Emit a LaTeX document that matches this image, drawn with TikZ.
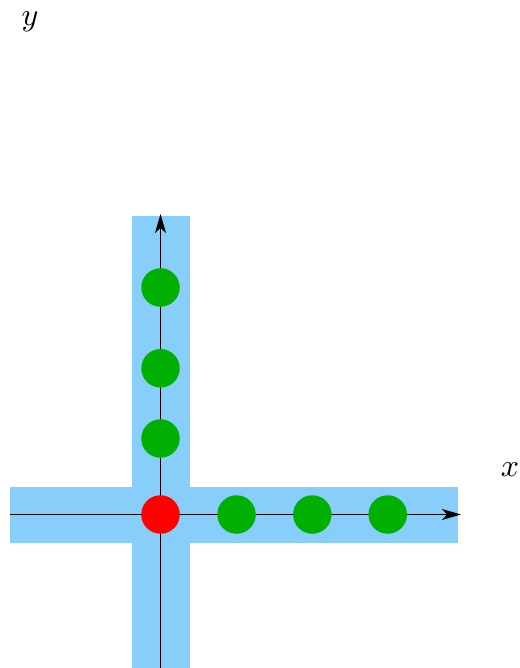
\documentclass[tikz,border=0pt]{standalone}
\usepackage{graphicx}
\usetikzlibrary{arrows.meta}
\definecolor{band}{RGB}{135,206,250}
\definecolor{dotgreen}{RGB}{0,176,0}
\begin{document}
\begin{tikzpicture}[x=1pt,y=-1pt,
  dot/.style={circle,fill=dotgreen,minimum size=38.5pt,inner sep=0pt},
  origin/.style={circle,fill=red,minimum size=38.5pt,inner sep=0pt},
  axisline/.style={line width=1.2pt,-{Stealth[length=19pt,width=11pt,inset=5pt]}},
  lbl/.style={inner sep=0pt}]
\useasboundingbox (0,0) rectangle (519,668);
% bands
\fill[band] (10,487) rectangle (458,543);
\fill[band] (132,216) rectangle (189.5,668);
% axes
\coordinate (xs) at (10,514.5);
\coordinate (xe) at (461,514.5);
\coordinate (ys) at (160.5,668);
\coordinate (ye) at (160.5,214);
\draw[axisline] (xs) -- (xe);
\draw[axisline] (ys) -- (ye);
% dots
\node[origin] (o) at (160.5,514.5) {};
\node[dot] (x1) at (236.5,514.5) {};
\node[dot] (x2) at (312.3,514.5) {};
\node[dot] (x3) at (387.7,514.5) {};
\node[dot] (y1) at (160.5,438.5) {};
\node[dot] (y2) at (160.5,368.3) {};
\node[dot] (y3) at (160.5,287.5) {};
% labels
\node[lbl] (xl) at (510,470) {\scalebox{3.2}{$x$}};
\node[lbl] (yl) at (30,21.5) {\scalebox{3.2}{$y$}};
\end{tikzpicture}
\end{document}
